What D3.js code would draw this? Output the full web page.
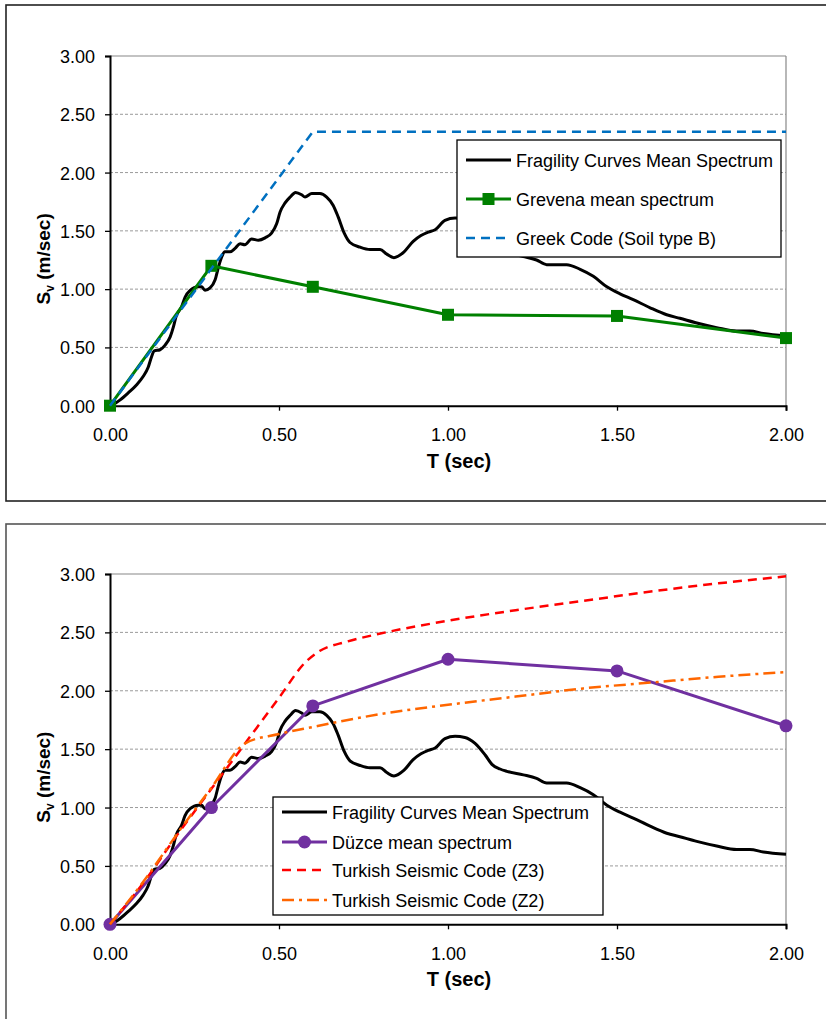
<!DOCTYPE html>
<html>
<head>
<meta charset="utf-8">
<script src="https://cdn.jsdelivr.net/npm/d3@7/dist/d3.min.js"></script>
<style>
  body { margin: 0; background: #fff; }
  text { font-family: "Liberation Sans", Arial, sans-serif; fill: #000; }
</style>
</head>
<body>
<svg id="chart" width="826" height="1019"></svg>
<script>
// ---- data ----
var xTicks = [0, 0.5, 1.0, 1.5, 2.0];
var yTicks = [0, 0.5, 1.0, 1.5, 2.0, 2.5, 3.0];

// fragility curves mean spectrum (same curve in both panels)
var fragT = [0, 0.015, 0.03, 0.054, 0.079, 0.098, 0.113, 0.123, 0.131, 0.148, 0.163, 0.178, 0.188, 0.195,
  0.212, 0.222, 0.237, 0.261, 0.271, 0.281, 0.296, 0.311, 0.321, 0.331, 0.34, 0.355, 0.37, 0.385, 0.399,
  0.419, 0.439, 0.459, 0.478, 0.493, 0.503, 0.518, 0.533, 0.549, 0.567, 0.577, 0.597, 0.621, 0.641, 0.66,
  0.675, 0.693, 0.71, 0.74, 0.769, 0.799, 0.819, 0.84, 0.87, 0.897, 0.92, 0.942, 0.962, 0.991, 1.021,
  1.05, 1.08, 1.11, 1.13, 1.154, 1.174, 1.223, 1.262, 1.292, 1.351, 1.391, 1.43, 1.47, 1.509, 1.548,
  1.598, 1.647, 1.686, 1.736, 1.795, 1.854, 1.893, 1.933, 2.0];
var fragSv = [0, 0.02, 0.05, 0.11, 0.18, 0.25, 0.33, 0.42, 0.47, 0.48, 0.52, 0.59, 0.68, 0.76,
  0.85, 0.93, 0.99, 1.02, 1.02, 0.99, 1.01, 1.08, 1.19, 1.28, 1.32, 1.32, 1.35, 1.39, 1.38,
  1.43, 1.42, 1.44, 1.48, 1.56, 1.66, 1.74, 1.79, 1.83, 1.81, 1.79, 1.82, 1.82, 1.79, 1.72,
  1.62, 1.48, 1.4, 1.36, 1.34, 1.34, 1.3, 1.27, 1.32, 1.41, 1.46, 1.49, 1.51, 1.59, 1.61,
  1.6, 1.55, 1.45, 1.37, 1.33, 1.31, 1.28, 1.25, 1.21, 1.21, 1.17, 1.11, 1.02, 0.96, 0.91,
  0.84, 0.78, 0.75, 0.71, 0.67, 0.64, 0.64, 0.62, 0.6];

var grevenaT = [0, 0.3, 0.6, 1.0, 1.5, 2.0];
var grevenaSv = [0, 1.2, 1.02, 0.78, 0.77, 0.58];

var greekT = [0, 0.6, 2.0];
var greekSv = [0, 2.35, 2.35];

var duzceT = [0, 0.3, 0.6, 1.0, 1.5, 2.0];
var duzceSv = [0, 1.0, 1.87, 2.27, 2.17, 1.7];

var z3T = [0, 0.1, 0.2, 0.3, 0.4, 0.5, 0.58, 0.62, 0.7, 0.8, 1.0, 1.2, 1.4, 1.6, 1.8, 2.0];
var z3Sv = [0, 0.36, 0.77, 1.16, 1.55, 1.94, 2.25, 2.34, 2.42, 2.49, 2.6, 2.69, 2.77, 2.85, 2.92, 2.98];

var z2T = [0, 0.1, 0.2, 0.3, 0.4, 0.5, 0.6, 0.8, 1.0, 1.2, 1.4, 1.6, 1.8, 2.0];
var z2Sv = [0, 0.37, 0.78, 1.17, 1.55, 1.63, 1.69, 1.8, 1.88, 1.95, 2.02, 2.07, 2.12, 2.16];

function zip(t, v) { return t.map(function(d, i){ return {t: d, v: v[i]}; }); }

var svg = d3.select("#chart");

function drawPanel(cfg) {
  var g = svg.append("g");
  // panel frame
  g.append("rect")
    .attr("x", 6).attr("y", cfg.boxY)
    .attr("width", 830).attr("height", cfg.boxH)
    .attr("fill", "#fff").attr("stroke", cfg.boxColor).attr("stroke-width", 1.6);

  var x = d3.scaleLinear().domain([0, 2]).range([110, 786]);
  var y = d3.scaleLinear().domain([0, 3]).range([cfg.bottom, cfg.top]);

  // gridlines
  g.selectAll(".grid").data(yTicks.filter(function(d){ return d > 0 && d < 3; }))
    .enter().append("line")
    .attr("x1", x(0)).attr("x2", x(2))
    .attr("y1", function(d){ return y(d); }).attr("y2", function(d){ return y(d); })
    .attr("stroke", "#9a9a9a").attr("stroke-width", 1).attr("stroke-dasharray", "3,2");
  g.append("line").attr("x1", x(0)).attr("x2", x(2)).attr("y1", y(3)).attr("y2", y(3))
    .attr("stroke", "#888").attr("stroke-width", 1.2);
  g.append("line").attr("x1", x(2)).attr("x2", x(2)).attr("y1", y(3)).attr("y2", y(0))
    .attr("stroke", "#888").attr("stroke-width", 1.2);

  // axes
  var yAxis = d3.axisLeft(y).tickValues(yTicks).tickFormat(d3.format(".2f")).tickSize(5).tickPadding(10);
  var xAxis = d3.axisBottom(x).tickValues(xTicks).tickFormat(d3.format(".2f")).tickSize(5).tickPadding(18);
  var ya = g.append("g").attr("transform", "translate(" + x(0) + ",0)").call(yAxis);
  var xa = g.append("g").attr("transform", "translate(0," + y(0) + ")").call(xAxis);
  [ya, xa].forEach(function(a){
    a.select(".domain").attr("stroke", "#000").attr("stroke-width", 2);
    a.selectAll(".tick line").attr("stroke", "#000").attr("stroke-width", 1.3);
    a.selectAll(".tick text").style("font-family", "Liberation Sans, Arial, sans-serif")
      .style("font-size", "18px").attr("fill", "#000");
  });
  ya.selectAll(".tick text").attr("dy", "0.36em");
  xa.selectAll(".tick text").attr("dy", "0.71em");

  // axis titles
  g.append("text").attr("x", 459).attr("y", cfg.bottom + 62)
    .attr("text-anchor", "middle").style("font-size", "20px").style("font-weight", "bold")
    .text("T (sec)");
  var ty = (cfg.top + cfg.bottom) / 2 + 28;
  var yt = g.append("text")
    .attr("transform", "translate(50," + ty + ") rotate(-90)")
    .attr("text-anchor", "middle").style("font-size", "19px").style("font-weight", "bold");
  yt.append("tspan").text("S");
  yt.append("tspan").attr("dy", 4).style("font-size", "12px").text("v");
  yt.append("tspan").attr("dy", -4).text(" (m/sec)");

  var line = d3.line().x(function(d){ return x(d.t); }).y(function(d){ return y(d.v); });

  // series
  cfg.series.forEach(function(s){
    g.append("path").datum(s.data)
      .attr("d", line.curve(s.curve || d3.curveLinear))
      .attr("fill", "none").attr("stroke", s.color).attr("stroke-width", s.width)
      .attr("stroke-dasharray", s.dash || null).attr("stroke-linejoin", "round");
    if (s.marker === "square") {
      g.selectAll(null).data(s.data).enter().append("rect")
        .attr("x", function(d){ return x(d.t) - 6; }).attr("y", function(d){ return y(d.v) - 6; })
        .attr("width", 12).attr("height", 12).attr("fill", s.color);
    } else if (s.marker === "circle") {
      g.selectAll(null).data(s.data).enter().append("circle")
        .attr("cx", function(d){ return x(d.t); }).attr("cy", function(d){ return y(d.v); })
        .attr("r", 6.5).attr("fill", s.color);
    }
  });

  // legend
  var lg = g.append("g");
  lg.append("rect").attr("x", cfg.legend.x).attr("y", cfg.legend.y)
    .attr("width", cfg.legend.w).attr("height", cfg.legend.h)
    .attr("fill", "#fff").attr("stroke", "#000").attr("stroke-width", 1.3);
  cfg.series.forEach(function(s, i){
    var cy = cfg.legend.rows[i];
    var x0 = cfg.legend.x + 9, x1 = x0 + 45;
    lg.append("line").attr("x1", x0).attr("x2", x1).attr("y1", cy).attr("y2", cy)
      .attr("stroke", s.color).attr("stroke-width", s.width).attr("stroke-dasharray", s.dash || null);
    if (s.marker === "square") {
      lg.append("rect").attr("x", (x0 + x1) / 2 - 6).attr("y", cy - 6).attr("width", 12).attr("height", 12).attr("fill", s.color);
    } else if (s.marker === "circle") {
      lg.append("circle").attr("cx", (x0 + x1) / 2).attr("cy", cy).attr("r", 6.5).attr("fill", s.color);
    }
    lg.append("text").attr("x", x1 + 5).attr("y", cy + 6.5).style("font-size", "18px").text(s.name);
  });
}

drawPanel({
  boxY: 5, boxH: 496, boxColor: "#222", top: 56, bottom: 405.7,
  legend: { x: 457, y: 140, w: 324, h: 117, rows: [160, 199, 238] },
  series: [
    { name: "Fragility Curves Mean Spectrum", data: zip(fragT, fragSv), color: "#000", width: 3, curve: d3.curveMonotoneX },
    { name: "Grevena mean spectrum", data: zip(grevenaT, grevenaSv), color: "#008000", width: 3, marker: "square" },
    { name: "Greek Code (Soil type B)", data: zip(greekT, greekSv), color: "#0070C0", width: 2.5, dash: "9,6" }
  ]
});

drawPanel({
  boxY: 524, boxH: 520, boxColor: "#555", top: 574, bottom: 924.3,
  legend: { x: 273, y: 797, w: 330, h: 118, rows: [812, 842, 870, 900] },
  series: [
    { name: "Fragility Curves Mean Spectrum", data: zip(fragT, fragSv), color: "#000", width: 3, curve: d3.curveMonotoneX },
    { name: "Düzce mean spectrum", data: zip(duzceT, duzceSv), color: "#7030A0", width: 3, marker: "circle" },
    { name: "Turkish Seismic Code (Z3)", data: zip(z3T, z3Sv), color: "#FF0000", width: 2.5, dash: "9,6", curve: d3.curveMonotoneX },
    { name: "Turkish Seismic Code (Z2)", data: zip(z2T, z2Sv), color: "#FF6600", width: 2.5, dash: "12,5,3,5", curve: d3.curveMonotoneX }
  ]
});
</script>
</body>
</html>
